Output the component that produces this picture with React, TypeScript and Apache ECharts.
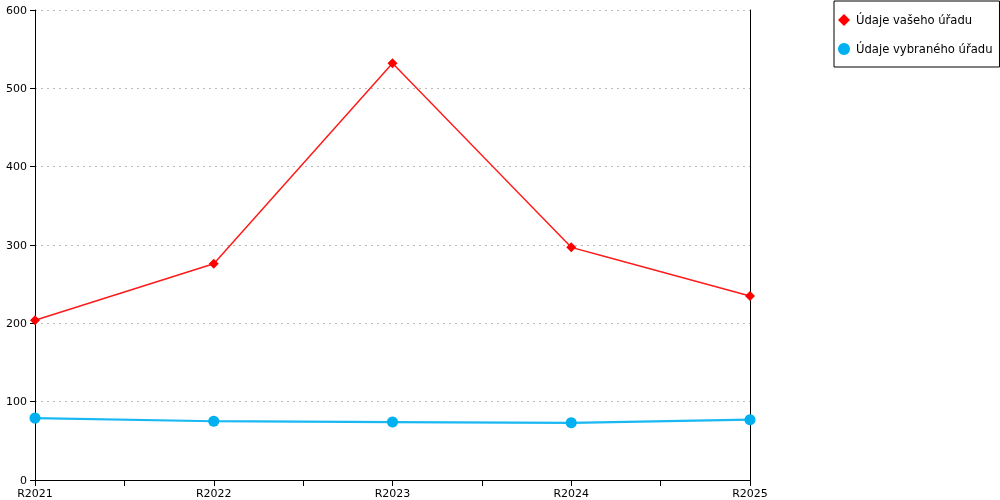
import React, { useEffect, useRef } from "react";
import * as echarts from "echarts";

const categories = ["R2021", "R2022", "R2023", "R2024", "R2025"];
const seriesNames = ["Údaje vašeho úřadu", "Údaje vybraného úřadu"];
const yourOffice = [204, 276, 532, 297, 235];
const selectedOffice = [79, 75, 74, 73, 77];
const yTicks = [0, 100, 200, 300, 400, 500, 600];

export default function App() {
  const ref = useRef<HTMLDivElement>(null);
  useEffect(() => {
    if (!ref.current) return;
    const chart = echarts.init(ref.current, undefined, { renderer: "svg" });
    const font = "DejaVu Sans";
    chart.setOption({
      animation: false,
      textStyle: { fontFamily: font },
      grid: { left: 35, top: 10, right: 250, bottom: 20, containLabel: false },
      legend: {
        orient: "vertical",
        left: 834,
        top: 1,
        padding: [13, 7, 12, 4],
        itemGap: 17,
        itemWidth: 12,
        itemHeight: 12,
        borderColor: "#000",
        borderWidth: 1,
        borderRadius: 0,
        textStyle: { fontFamily: font, fontSize: 11.6, color: "#000", padding: [0, 0, 0, 1] },
        data: [
          { name: seriesNames[0], icon: "diamond" },
          { name: seriesNames[1], icon: "circle" },
        ],
      },
      xAxis: {
        type: "value",
        min: 0,
        max: categories.length - 1,
        interval: 0.5,
        axisLine: { show: true, lineStyle: { color: "#000", width: 1 } },
        axisTick: { show: true, length: 6, lineStyle: { color: "#000" } },
        splitLine: { show: false },
        axisLabel: {
          color: "#000",
          fontSize: 11,
          fontFamily: font,
          margin: 8,
          formatter: (v: number) => (Number.isInteger(v) ? categories[v] : ""),
        },
      },
      yAxis: [
        {
          type: "value",
          min: yTicks[0],
          max: yTicks[yTicks.length - 1],
          interval: 100,
          axisLine: { show: true, lineStyle: { color: "#000", width: 1 } },
          axisTick: { show: true, length: 5, lineStyle: { color: "#000" } },
          axisLabel: { color: "#000", fontSize: 11, fontFamily: font, margin: 8 },
          splitLine: {
            show: true,
            lineStyle: { color: "#bbbbbb", type: [2, 4], width: 1 },
          },
        },
        {
          type: "value",
          min: yTicks[0],
          max: yTicks[yTicks.length - 1],
          interval: 100,
          position: "right",
          axisLine: { show: true, lineStyle: { color: "#000", width: 1 } },
          axisTick: { show: false },
          axisLabel: { show: false },
          splitLine: { show: false },
        },
      ],
      series: [
        {
          name: seriesNames[0],
          type: "line",
          data: yourOffice.map((v, i) => [i, v]),
          symbol: "diamond",
          symbolSize: 10,
          itemStyle: { color: "#ff0000" },
          lineStyle: { color: "#ff1a1a", width: 1.5 },
        },
        {
          name: seriesNames[1],
          type: "line",
          data: selectedOffice.map((v, i) => [i, v]),
          symbol: "circle",
          symbolSize: 11,
          itemStyle: { color: "#00b0f0" },
          lineStyle: { color: "#1ab8f2", width: 2.2 },
        },
      ],
    });
    return () => chart.dispose();
  }, []);
  return (
    <div
      ref={ref}
      style={{ position: "fixed", left: 0, top: 0, width: 1000, height: 500 }}
    />
  );
}
